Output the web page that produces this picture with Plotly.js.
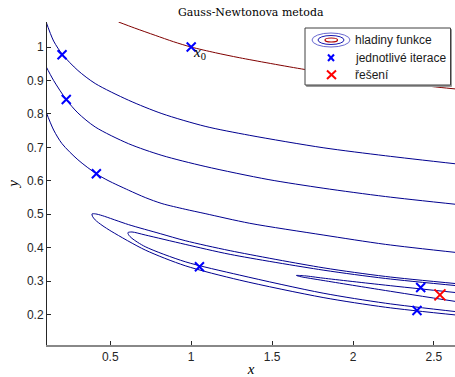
<!DOCTYPE html>
<html>
<head>
<meta charset="utf-8">
<script src="https://cdn.plot.ly/plotly-3.0.1.min.js"></script>
<style>html,body{margin:0;padding:0;background:#fff;}#chart{width:455px;height:377px;}</style>
</head>
<body>
<div id="chart"></div>
<script>
// Contour lines (level curves of the objective)
const levelRedX = [0.551, 0.65, 0.778, 0.891, 1.0, 1.15, 1.30, 1.702, 2.1, 2.525, 2.65];
const levelRedY = [1.075, 1.057, 1.035, 1.016, 1.0, 0.983, 0.968, 0.933, 0.904, 0.880, 0.874];

const levelAX = [0.10, 0.15, 0.206, 0.30, 0.407, 0.613, 0.819, 1.086, 1.362, 1.815, 2.2, 2.65];
const levelAY = [1.08, 1.018, 0.977, 0.930, 0.891, 0.841, 0.801, 0.763, 0.736, 0.699, 0.675, 0.650];

const levelBX = [0.10, 0.15, 0.228, 0.30, 0.407, 0.613, 0.819, 1.086, 1.475, 1.815, 2.2, 2.65];
const levelBY = [0.945, 0.900, 0.843, 0.803, 0.761, 0.711, 0.676, 0.643, 0.604, 0.578, 0.553, 0.529];

const levelCX = [0.10, 0.15, 0.202, 0.30, 0.414, 0.486, 0.613, 0.716, 0.819, 0.963, 1.086, 1.362, 1.815, 2.2, 2.65];
const levelCY = [0.81, 0.752, 0.711, 0.663, 0.621, 0.601, 0.572, 0.550, 0.532, 0.515, 0.502, 0.473, 0.438, 0.410, 0.385];

const levelDX = [2.65, 2.2, 1.815, 1.241, 0.963, 0.809, 0.613, 0.45, 0.41, 0.387, 0.39, 0.407, 0.449, 0.510, 0.716, 0.963, 1.3, 1.815, 2.2, 2.65];
const levelDY = [0.292, 0.314, 0.340, 0.391, 0.421, 0.442, 0.469, 0.496, 0.501, 0.501, 0.494, 0.483, 0.467, 0.448, 0.393, 0.346, 0.303, 0.251, 0.222, 0.198];

const levelEX = [2.65, 2.2, 1.815, 1.241, 0.963, 0.716, 0.634, 0.609, 0.614, 0.634, 0.716, 0.963, 1.3, 1.815, 2.2, 2.65];
const levelEY = [0.286, 0.308, 0.333, 0.380, 0.410, 0.438, 0.447, 0.445, 0.438, 0.428, 0.403, 0.358, 0.318, 0.264, 0.234, 0.208];

const levelFX = [2.65, 2.2, 1.815, 1.70, 1.65, 1.68, 1.815, 2.2, 2.65];
const levelFY = [0.265, 0.288, 0.309, 0.316, 0.317, 0.313, 0.302, 0.272, 0.238];

// Gauss-Newton iterates and the solution
const iterX = [1.0, 0.202, 0.228, 0.414, 1.051, 2.395, 2.418];
const iterY = [1.0, 0.977, 0.843, 0.621, 0.343, 0.212, 0.281];
const solX = [2.537];
const solY = [0.259];

const xTicks = [0.5, 1, 1.5, 2, 2.5];
const yTicks = [0.2, 0.3, 0.4, 0.5, 0.6, 0.7, 0.8, 0.9, 1];
const legendLabels = ['hladiny funkce', 'jednotlivé iterace', 'řešení'];

const navy = '#00008F';
function lvl(x, y, color) {
  return {x: x, y: y, type: 'scatter', mode: 'lines',
          line: {color: color, width: 1, shape: 'spline', smoothing: 0.8},
          name: 'hladiny funkce', showlegend: false, hoverinfo: 'skip'};
}
const traces = [
  lvl(levelAX, levelAY, navy),
  lvl(levelBX, levelBY, navy),
  lvl(levelCX, levelCY, navy),
  lvl(levelDX, levelDY, navy),
  lvl(levelEX, levelEY, navy),
  lvl(levelFX, levelFY, navy),
  lvl(levelRedX, levelRedY, '#800000'),
  {x: iterX, y: iterY, type: 'scatter', mode: 'markers', name: legendLabels[1], showlegend: false,
   marker: {symbol: 'x-thin', size: 9, color: '#0000FF', line: {width: 2, color: '#0000FF'}}},
  {x: solX, y: solY, type: 'scatter', mode: 'markers', name: legendLabels[2], showlegend: false,
   marker: {symbol: 'x-thin', size: 11, color: '#FF0000', line: {width: 2, color: '#FF0000'}}}
];

// legend box drawn in pixel positions converted to paper units of the plot area
const L = 47, T = 22, W = 408, H = 323;
const px = v => (v - L) / W;
const py = v => (T + H - v) / H;
function rect(x0, y0, x1, y1, line, fill, w) {
  return {type: 'rect', xref: 'paper', yref: 'paper', x0: px(x0), x1: px(x1), y0: py(y1), y1: py(y0),
          line: {color: line, width: w}, fillcolor: fill, layer: 'above'};
}
function ell(x0, y0, x1, y1, line, w) {
  return {type: 'circle', xref: 'paper', yref: 'paper', x0: px(x0), x1: px(x1), y0: py(y1), y1: py(y0),
          line: {color: line, width: w}, fillcolor: 'rgba(0,0,0,0)', layer: 'above'};
}
function seg(x0, y0, x1, y1, color, w) {
  return {type: 'line', xref: 'paper', yref: 'paper', x0: px(x0), x1: px(x1), y0: py(y0), y1: py(y1),
          line: {color: color, width: w}, layer: 'above'};
}
const shapes = [
  rect(306.5, 29.5, 451.5, 86.5, '#9a9a9a', '#9a9a9a', 1),
  rect(305, 28, 450.5, 85, '#404040', '#ffffff', 1),
  ell(312, 33, 350, 47, '#6868D0', 1),
  ell(318, 35.5, 344, 44.5, '#1818B0', 1),
  ell(325, 38, 337.5, 42, '#B00000', 1.2),
  seg(328, 54.5, 334, 61, '#0000FF', 2),
  seg(328, 61, 334, 54.5, '#0000FF', 2),
  seg(327, 70.5, 336, 79, '#FF0000', 2),
  seg(327, 79, 336, 70.5, '#FF0000', 2)
];

const legFont = {family: 'Liberation Sans, Arial, sans-serif', size: 12, color: '#1a1a1a'};
const legendRows = [40, 57.7, 75];
const annotations = legendLabels.map((t, i) => ({
  xref: 'paper', yref: 'paper', x: px(353), y: py(legendRows[i]), text: t, showarrow: false,
  xanchor: 'left', yanchor: 'middle', font: legFont
}));
annotations.push({x: iterX[0], y: iterY[0], xref: 'x', yref: 'y', text: '<i>x</i><sub>0</sub>', showarrow: false,
  xanchor: 'left', yanchor: 'top', xshift: 0, yshift: 5,
  font: {family: 'Liberation Serif, serif', size: 15, color: '#000'}});

const tickFont = {family: 'Liberation Sans, Arial, sans-serif', size: 12, color: '#262626'};
const layout = {
  width: 455, height: 377,
  margin: {l: L, r: 0, t: T, b: 32, pad: 0},
  paper_bgcolor: '#fff', plot_bgcolor: '#fff',
  title: {text: 'Gauss-Newtonova metoda', font: {family: 'DejaVu Serif, serif', size: 11, color: '#000'},
          x: 0.551, xanchor: 'center', y: 0.968, yanchor: 'middle'},
  xaxis: {range: [0.109, 2.63], tickvals: xTicks, ticks: 'inside', ticklen: 4, tickcolor: '#262626',
          showline: true, linecolor: '#888', linewidth: 1.5, showgrid: false, zeroline: false,
          tickfont: tickFont,
          title: {text: '<i>x</i>', font: {family: 'Liberation Serif, serif', size: 15, color: '#000'}}},
  yaxis: {range: [0.109, 1.075], tickvals: yTicks, ticks: 'inside', ticklen: 4, tickcolor: '#262626',
          showline: true, linecolor: '#262626', linewidth: 1, showgrid: false, zeroline: false,
          tickfont: tickFont, automargin: false,
          title: {text: '<i>y</i>', standoff: 4, font: {family: 'Liberation Serif, serif', size: 15, color: '#000'}}},
  shapes: shapes,
  annotations: annotations,
  showlegend: false
};
Plotly.newPlot('chart', traces, layout, {displayModeBar: false, staticPlot: true});
</script>
</body>
</html>
